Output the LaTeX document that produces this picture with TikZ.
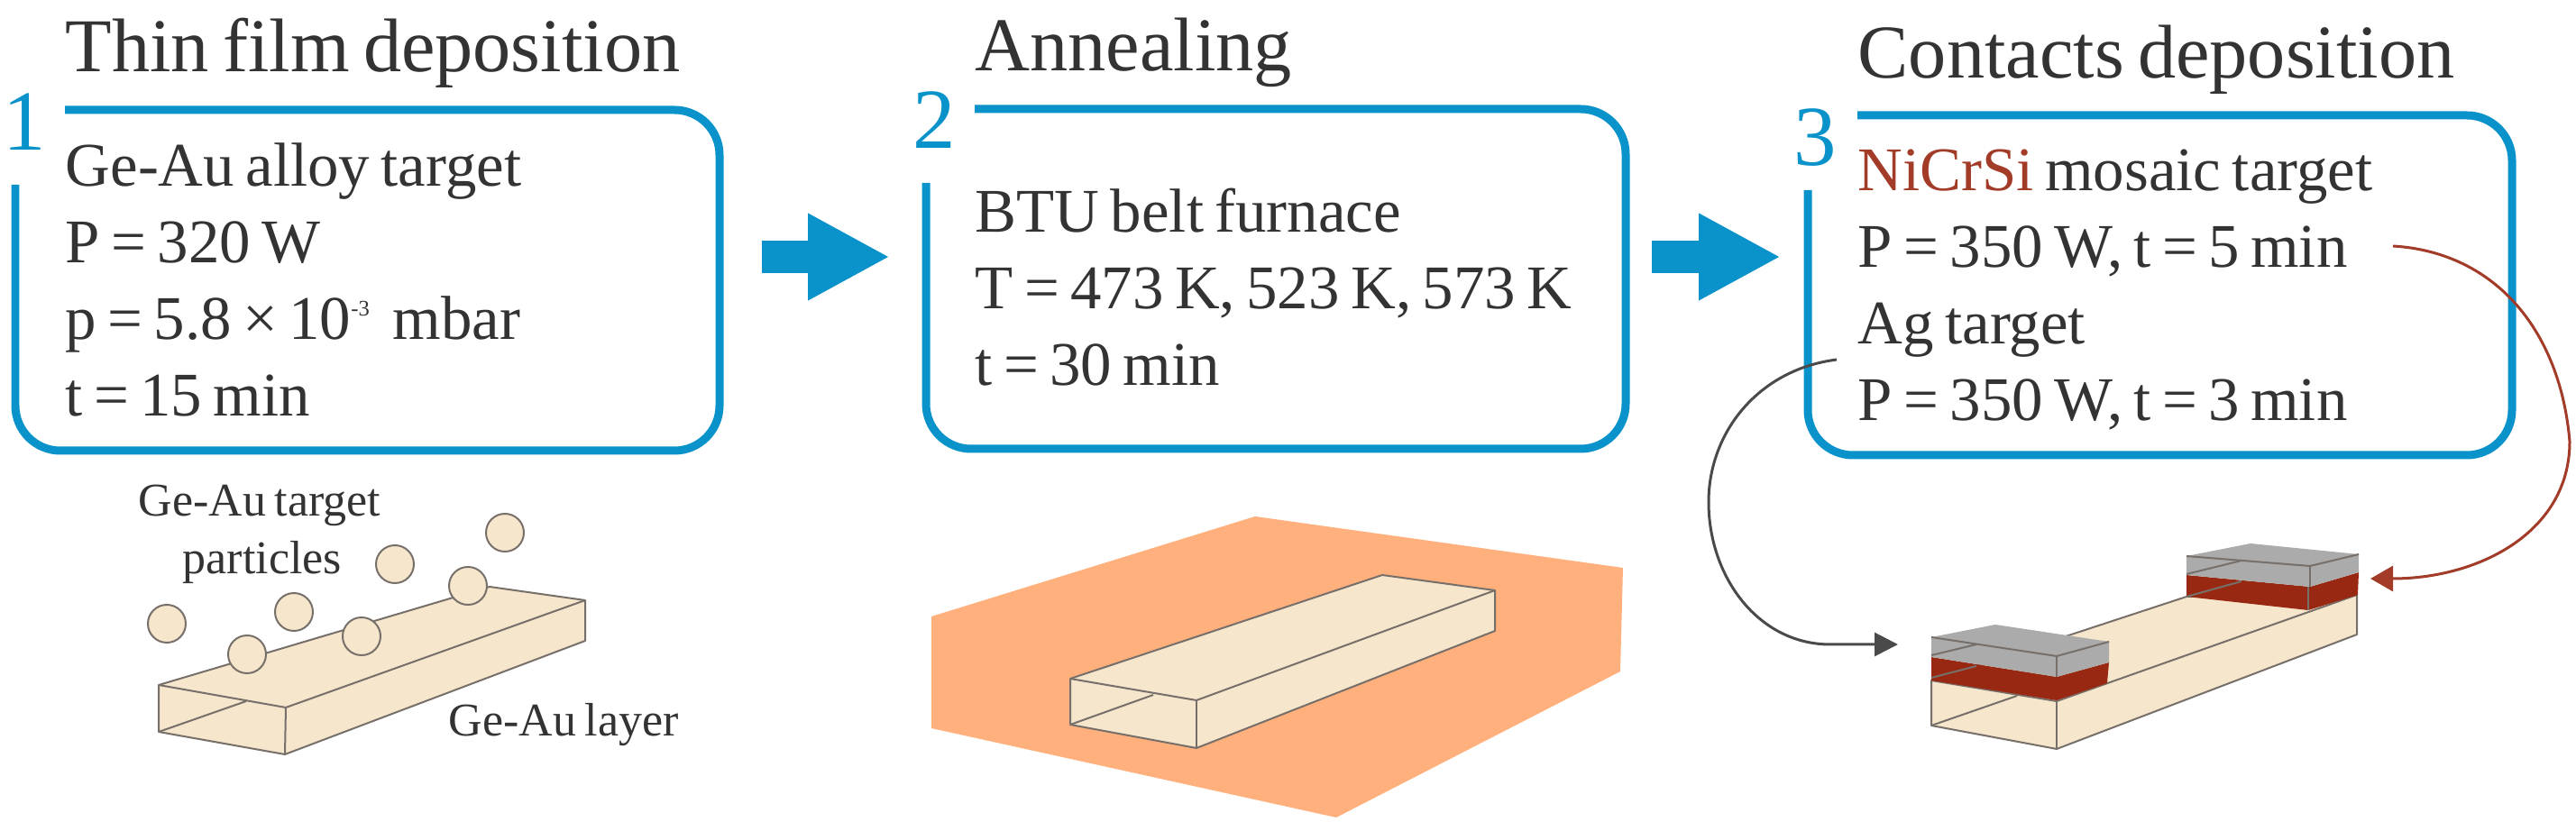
\documentclass[tikz,border=0pt]{standalone}
\usepackage{fontspec}
\usepackage{xcolor}
\usepackage{tikz}
\usetikzlibrary{arrows.meta}
\setmainfont[WordSpace=0.72]{Liberation Serif}
\definecolor{stepblue}{HTML}{0A92CA}
\definecolor{txtgray}{HTML}{333333}
\definecolor{filmtan}{HTML}{F5E6CC}
\definecolor{edgegray}{HTML}{77706A}
\definecolor{furnace}{HTML}{FFB07C}
\definecolor{nicrsi}{HTML}{982812}
\definecolor{nicrtxt}{HTML}{A23B28}
\definecolor{agray}{HTML}{ABABAB}
\definecolor{curvegray}{HTML}{4A4A4A}

\begin{document}
\begin{tikzpicture}[x=1cm,y=1cm]
  \tikzstyle{outl}=[draw=stepblue,line width=0.09cm,rounded corners=0.5cm]
  \tikzstyle{bigarr}=[draw=stepblue,line width=0.36cm,-{Triangle[length=0.91cm,width=0.9cm,fill=stepblue]}]
  \tikzstyle{ttl}=[anchor=base west,inner sep=0pt,text=txtgray,font=\fontsize{24}{28}\selectfont]
  \tikzstyle{num}=[anchor=base west,inner sep=0pt,text=stepblue,font=\fontsize{27}{30}\selectfont]
  \tikzstyle{body}=[anchor=base west,inner sep=0pt,text=txtgray,align=left,font=\fontsize{19.6}{24.2}\selectfont]
  \tikzstyle{lbl}=[anchor=base west,inner sep=0pt,text=txtgray,align=center,font=\fontsize{14.8}{18.2}\selectfont]
  \tikzstyle{film}=[fill=filmtan,draw=edgegray,line width=0.02cm,line join=round]
  \tikzstyle{edge}=[draw=edgegray,line width=0.02cm]
  \tikzstyle{part}=[circle,fill=filmtan,draw=edgegray,line width=0.02cm,minimum size=0.42cm,inner sep=0pt]
  \tikzstyle{redarr}=[draw=nicrtxt,line width=0.03cm,-{Triangle[length=0.25cm,width=0.28cm,fill=nicrtxt]}]
  \tikzstyle{blkarr}=[draw=curvegray,line width=0.03cm,-{Triangle[length=0.26cm,width=0.26cm,fill=curvegray]}]
  \useasboundingbox (0,0) rectangle (28.57,-9.22);

  % Step 1
  \node[ttl] (t1) at (0.72,-0.80) {Thin film deposition};
  \node[num] (n1) at (0.03,-1.67) {1};
  \draw[outl] (0.72,-1.22) -- (7.98,-1.22) -- (7.98,-5.00) -- (0.17,-5.00) -- (0.17,-2.05);
  \node[body] (b1) at (0.72,-4.62) {Ge-Au alloy target\\P = 320 W\\p = 5.8 × 10\textsuperscript{\scriptsize -3}\, mbar\\t = 15 min};

  % Step 2
  \node[ttl] (t2) at (10.81,-0.79) {Annealing};
  \node[num] (n2) at (10.12,-1.65) {2};
  \draw[outl] (10.81,-1.21) -- (18.03,-1.21) -- (18.03,-4.98) -- (10.27,-4.98) -- (10.27,-2.03);
  \node[body] (b2) at (10.81,-4.28) {BTU belt furnace\\T = 473 K, 523 K, 573 K\\t = 30 min};

  % Step 3
  \node[ttl] (t3) at (20.60,-0.87) {Contacts deposition};
  \node[num] (n3) at (19.89,-1.84) {3};
  \draw[outl] (20.60,-1.28) -- (27.86,-1.28) -- (27.86,-5.05) -- (20.05,-5.05) -- (20.05,-2.11);
  \node[body] (b3) at (20.60,-4.67) {\textcolor{nicrtxt}{NiCrSi} mosaic target\\P = 350 W, t = 5 min\\Ag target\\P = 350 W, t = 3 min};

  % Arrows between steps
  \coordinate (a1s) at (8.45,-2.85);
  \coordinate (a1e) at (9.87,-2.85);
  \coordinate (a2s) at (18.32,-2.85);
  \coordinate (a2e) at (19.75,-2.85);
  \draw[bigarr] (a1s) -- (a1e);
  \draw[bigarr] (a2s) -- (a2e);

  % Film with particles
  \draw[film] (1.76,-7.60) -- (5.43,-6.51) -- (6.49,-6.66) -- (6.49,-7.11) -- (3.16,-8.37) -- (1.76,-8.12) -- cycle;
  \draw[edge] (1.76,-7.60) -- (3.17,-7.85) -- (6.49,-6.66);
  \draw[edge] (3.17,-7.85) -- (3.16,-8.37);
  \draw[edge] (1.76,-8.12) -- (2.73,-7.78);
  \node[part] (p1) at (1.85,-6.92) {};
  \node[part] (p2) at (2.74,-7.26) {};
  \node[part] (p3) at (3.26,-6.79) {};
  \node[part] (p4) at (4.01,-7.06) {};
  \node[part] (p5) at (4.38,-6.26) {};
  \node[part] (p6) at (5.19,-6.50) {};
  \node[part] (p7) at (5.60,-5.91) {};
  \node[lbl] (l1) at (1.53,-5.73) {Ge-Au target};
  \node[lbl] (l2) at (2.02,-6.37) {particles};
  \node[lbl] (l3) at (4.97,-8.17) {Ge-Au layer};

  % Furnace
  \fill[furnace] (13.92,-5.73) -- (18.00,-6.30) -- (17.97,-7.45) -- (14.82,-9.07) -- (10.33,-8.08) -- (10.33,-6.84) -- cycle;
  \draw[film] (11.87,-7.53) -- (15.33,-6.38) -- (16.58,-6.55) -- (16.58,-7.00) -- (13.27,-8.30) -- (11.87,-8.04) -- cycle;
  \draw[edge] (11.87,-7.53) -- (13.27,-7.77) -- (16.58,-6.55);
  \draw[edge] (13.27,-7.77) -- (13.27,-8.30);
  \draw[edge] (11.87,-8.04) -- (12.79,-7.71);

  % Film with contacts
  \draw[film] (21.42,-7.55) -- (24.25,-6.62) -- (26.14,-6.60) -- (26.14,-7.04) -- (22.81,-8.31) -- (21.42,-8.05) -- cycle;
  \draw[edge] (21.42,-7.55) -- (22.81,-7.78) -- (26.14,-6.60);
  \draw[edge] (22.81,-7.78) -- (22.81,-8.31);
  \draw[edge] (21.42,-8.05) -- (22.37,-7.72);
  % right contact
  \fill[nicrsi] (24.25,-6.38) -- (25.62,-6.51) -- (26.16,-6.35) -- (26.15,-6.60) -- (25.60,-6.77) -- (24.25,-6.62) -- cycle;
  \fill[agray] (24.25,-6.17) -- (24.96,-6.03) -- (26.16,-6.15) -- (26.16,-6.35) -- (25.62,-6.51) -- (24.25,-6.38) -- cycle;
  \draw[edge] (24.25,-6.17) -- (25.62,-6.28) -- (26.16,-6.15);
  \draw[edge] (25.62,-6.28) -- (25.62,-6.51);
  \draw[edge] (24.25,-6.37) -- (24.86,-6.22);
  \draw[edge] (24.25,-6.62) -- (24.86,-6.45);
  \draw[edge] (25.60,-6.51) -- (25.60,-6.77);
  % left contact
  \fill[nicrsi] (21.42,-7.29) -- (22.81,-7.51) -- (23.39,-7.35) -- (23.37,-7.58) -- (22.81,-7.77) -- (21.42,-7.55) -- cycle;
  \fill[agray] (21.42,-7.07) -- (22.13,-6.93) -- (23.39,-7.12) -- (23.39,-7.35) -- (22.81,-7.51) -- (21.42,-7.29) -- cycle;
  \draw[edge] (21.42,-7.07) -- (22.81,-7.28) -- (23.39,-7.12);
  \draw[edge] (22.81,-7.28) -- (22.81,-7.51);
  \draw[edge] (21.42,-7.27) -- (21.92,-7.15);
  \draw[edge] (21.42,-7.52) -- (21.92,-7.39);

  % Curved arrows to the contacts
  \coordinate (c1s) at (26.54,-2.73);
  \coordinate (c1e) at (26.29,-6.42);
  \coordinate (c2s) at (20.37,-3.99);
  \coordinate (c2e) at (21.05,-7.15);
  \draw[redarr] (c1s) .. controls (27.70,-2.80) and (28.40,-3.70) .. (28.50,-4.90) .. controls (28.50,-5.90) and (27.50,-6.42) .. (c1e);
  \draw[blkarr] (c2s) .. controls (19.50,-4.10) and (18.95,-4.80) .. (18.95,-5.57) .. controls (18.95,-6.40) and (19.50,-7.15) .. (20.30,-7.15) -- (c2e);
\end{tikzpicture}
\end{document}
